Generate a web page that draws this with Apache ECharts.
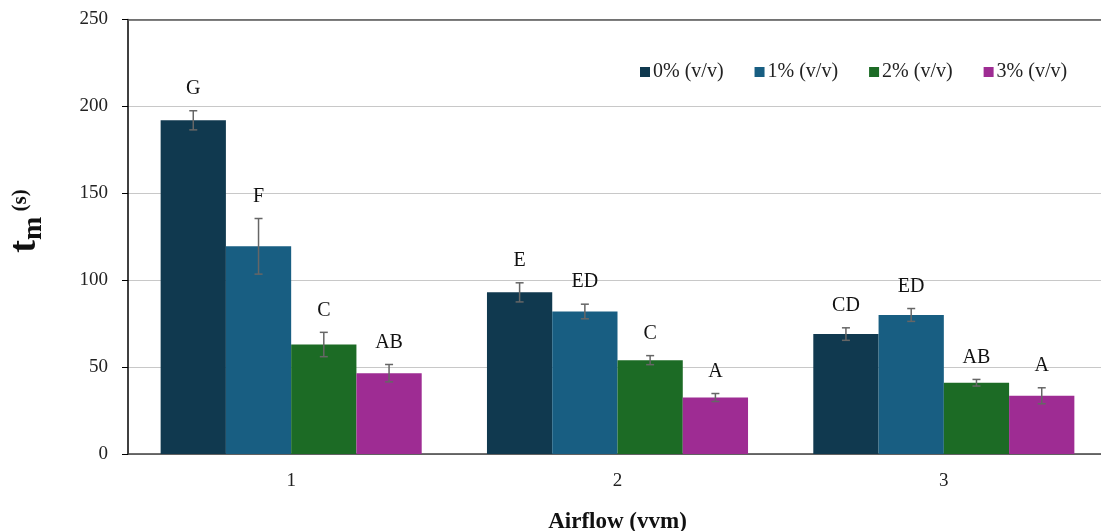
<!DOCTYPE html>
<html>
<head>
<meta charset="utf-8">
<script src="https://cdn.jsdelivr.net/npm/echarts@6/dist/echarts.min.js"></script>
<style>
  html, body { margin: 0; padding: 0; background: #fff; }
  #chart { width: 1101px; height: 531px; }
</style>
</head>
<body>
<div id="chart"></div>
<script>
// airflow levels (vvm)
const categories = ['1', '2', '3']
const seriesNames = ['0% (v/v)', '1% (v/v)', '2% (v/v)', '3% (v/v)']
const colors = ['#10394f', '#185e82', '#1c6b25', '#9e2c93']

// t_m (s) per concentration
const values0 = [192, 93, 69]
const values1 = [119.5, 82, 80]
const values2 = [63, 54, 41]
const values3 = [46.5, 32.5, 33.5]

// standard deviation
const errors0 = [5.5, 5.5, 3.6]
const errors1 = [16, 4.2, 3.7]
const errors2 = [7, 2.6, 1.9]
const errors3 = [5, 2.3, 4.6]

// significance letters
const letters0 = ['G', 'E', 'CD']
const letters1 = ['F', 'ED', 'ED']
const letters2 = ['C', 'C', 'AB']
const letters3 = ['AB', 'A', 'A']

const yTicks = [0, 50, 100, 150, 200, 250]

const allValues = [values0, values1, values2, values3]
const allErrors = [errors0, errors1, errors2, errors3]
const allLetters = [letters0, letters1, letters2, letters3]

const FONT = '"Liberation Serif", "Times New Roman", serif'

const chart = echarts.init(document.getElementById('chart'))

// bars
const barSeries = seriesNames.map((name, i) => ({
  name: name,
  type: 'bar',
  barGap: '0%',
  barCategoryGap: '20%',
  itemStyle: { color: colors[i] },
  data: allValues[i]
}))

// error bars + letters drawn on top of each bar
const errSeries = seriesNames.map((name, i) => ({
  type: 'custom',
  z: 5,
  silent: true,
  clip: false,
  data: allValues[i].map((v, j) => [j, v, allErrors[i][j], allLetters[i][j]]),
  renderItem: (params, api) => {
    const j = api.value(0)
    const v = api.value(1)
    const e = api.value(2)
    const band = api.size([1, 0])[0]
    const bw = band * 0.8 / 4
    const c = api.coord([j, v])
    const x = c[0] + (i - 1.5) * bw
    const yTop = api.coord([j, v + e])[1]
    const yBot = api.coord([j, v - e])[1]
    const cap = 4
    const ls = { stroke: '#666', lineWidth: 1.5 }
    return {
      type: 'group',
      children: [
        { type: 'line', shape: { x1: x, y1: yTop, x2: x, y2: yBot }, style: ls },
        { type: 'line', shape: { x1: x - cap, y1: yTop, x2: x + cap, y2: yTop }, style: ls },
        { type: 'line', shape: { x1: x - cap, y1: yBot, x2: x + cap, y2: yBot }, style: ls },
        {
          type: 'text',
          style: {
            x: x, y: yTop - 12,
            text: api.value(3),
            align: 'center', verticalAlign: 'bottom',
            font: '20px ' + FONT,
            fill: '#111'
          }
        }
      ]
    }
  }
}))

const option = {
  animation: false,
  textStyle: { fontFamily: FONT },
  legend: {
    data: seriesNames,
    left: 635,
    top: 57,
    icon: 'rect',
    itemWidth: 10,
    itemHeight: 10,
    itemGap: 31,
    textStyle: { fontFamily: FONT, fontSize: 20, color: '#222', padding: [0, 0, 0, -2] }
  },
  grid: { left: 128, width: 979, top: 19.5, bottom: 77, outerBoundsMode: 'none' },
  xAxis: [{
    type: 'category',
    data: categories,
    name: 'Airflow (vvm)',
    nameLocation: 'middle',
    nameGap: 57,
    nameTextStyle: { fontFamily: FONT, fontSize: 23, fontWeight: 'bold', color: '#111' },
    axisLine: { lineStyle: { color: '#404040', width: 1.5 } },
    axisTick: { alignWithLabel: true, length: 4, lineStyle: { color: '#404040' } },
    axisLabel: { margin: 18, fontFamily: FONT, fontSize: 19, color: '#222' }
  }, {
    // top border line
    type: 'category',
    data: categories,
    position: 'top',
    axisLine: { lineStyle: { color: '#555', width: 1.5 } },
    axisTick: { show: false },
    axisLabel: { show: false }
  }],
  yAxis: {
    type: 'value',
    min: yTicks[0],
    max: yTicks[yTicks.length - 1],
    interval: 50,
    axisLine: { show: true, lineStyle: { color: '#000', width: 1.5 } },
    axisTick: { show: true, length: 6, lineStyle: { color: '#000' } },
    axisLabel: { margin: 20, fontFamily: FONT, fontSize: 19, color: '#222' },
    splitLine: { lineStyle: { color: '#c8c8c8', width: 1.2 } }
  },
  graphic: [{
    type: 'text',
    x: 25,
    y: 221,
    rotation: Math.PI / 2,
    style: {
      text: '{t|t}{m|m}{s| (s)}',
      align: 'center',
      verticalAlign: 'middle',
      rich: {
        t: { font: 'bold 38px ' + FONT, fill: '#111' },
        m: { font: 'bold 28px ' + FONT, fill: '#111', padding: [18, 0, 0, 0] },
        s: { font: 'bold 21px ' + FONT, fill: '#111', padding: [0, 0, 8, 0] }
      }
    }
  }],
  series: [...barSeries, ...errSeries]
}

chart.setOption(option)
window.addEventListener('resize', () => chart && chart.resize())
</script>
</body>
</html>
